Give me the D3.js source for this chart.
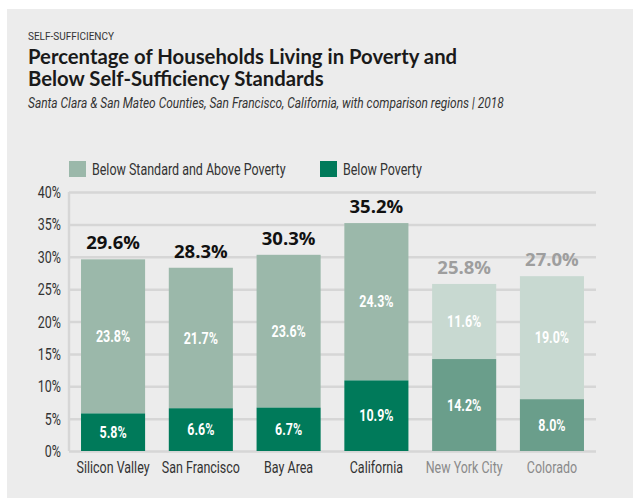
<!DOCTYPE html>
<html>
<head>
<meta charset="utf-8">
<script src="https://cdn.jsdelivr.net/npm/d3@7"></script>
<style>
  html, body { margin: 0; padding: 0; background: #fff; }
  svg { display: block; }
  .cond { font-family: Roboto, "Liberation Sans", sans-serif; }
</style>
</head>
<body>
<div id="chart"></div>
<script>
// Chart data
const categories = ["Silicon Valley", "San Francisco", "Bay Area", "California", "New York City", "Colorado"];
const belowPoverty = [5.8, 6.6, 6.7, 10.9, 14.2, 8.0];
const belowStandard = [23.8, 21.7, 23.6, 24.3, 11.6, 19.0];
const totals = [29.6, 28.3, 30.3, 35.2, 25.8, 27.0];
// comparison regions are drawn in faded colours
const comparison = [false, false, false, false, true, true];
const yTicks = [0, 5, 10, 15, 20, 25, 30, 35, 40];
const legendLabels = ["Below Standard and Above Poverty", "Below Poverty"];

const width = 633, height = 498;
// no condensed face is installed, so squeeze Roboto horizontally
const squeeze = 0.78;

const colors = {
  top: "#9bb8aa", bottom: "#007a5a",
  topFaded: "#c8d9d1", bottomFaded: "#6a9e8b",
  grid: "#d6d6d6", panel: "#ececec"
};

const svg = d3.select("#chart").append("svg")
  .attr("width", width)
  .attr("height", height);

/*
 * Place a text at (x, y) with a horizontal squeeze.
 */
function placeCond(sel, fx, fy, sx) {
  sel.attr("class", "cond")
    .attr("transform", (d, i) => "translate(" + fx(d, i) + "," + fy(d, i) + ") scale(" + (sx || squeeze) + ",1)");
}

// grey panel behind everything
svg.append("rect")
  .attr("x", 7).attr("y", 9)
  .attr("width", width - 7).attr("height", height - 9)
  .attr("fill", colors.panel);

// ---- Titles ----
svg.append("text")
  .call(placeCond, () => 28, () => 40, 0.87)
  .attr("font-size", 11.5)
  .attr("fill", "#333")
  .text("SELF-SUFFICIENCY");

const titleLines = ["Percentage of Households Living in Poverty and", "Below Self-Sufficiency Standards"];
svg.append("g").selectAll("text")
  .data(titleLines)
  .join("text")
  .attr("x", 28)
  .attr("y", (d, i) => 64 + i * 22)
  .attr("font-family", "Lato, sans-serif")
  .attr("font-weight", 700)
  .attr("font-size", 20.3)
  .attr("fill", "#1a1a1a")
  .text(d => d);

svg.append("text")
  .call(placeCond, () => 28, () => 108)
  .attr("font-style", "italic")
  .attr("font-size", 15.3)
  .attr("fill", "#333")
  .text("Santa Clara & San Mateo Counties, San Francisco, California, with comparison regions  |  2018");

// ---- Scales ----
const x = d3.scaleBand()
  .domain(categories)
  .range([69, 596])
  .paddingInner(0.27)
  .paddingOuter(0.137);

const y = d3.scaleLinear()
  .domain([0, 40])
  .range([451, 192]);

// ---- Grid and axis ----
const yAxis = d3.axisLeft(y)
  .tickValues(yTicks)
  .tickSize(-(596 - 69))
  .tickFormat(d => d + "%");

const axisG = svg.append("g")
  .attr("transform", "translate(69,0)")
  .call(yAxis);

axisG.select(".domain").remove();
axisG.selectAll(".tick line")
  .attr("stroke", colors.grid)
  .attr("stroke-width", 2.5);
axisG.selectAll(".tick text")
  .attr("x", null)
  .attr("dy", "0.35em")
  .call(placeCond, () => -8, () => 0)
  .attr("font-size", 16)
  .attr("fill", "#333");

// vertical axis line
svg.append("line")
  .attr("x1", 69).attr("x2", 69)
  .attr("y1", y(40)).attr("y2", y(0))
  .attr("stroke", colors.grid)
  .attr("stroke-width", 2.5);

// ---- Bars ----
const bars = svg.append("g").selectAll("g")
  .data(categories)
  .join("g");

bars.append("rect")
  .attr("x", d => x(d))
  .attr("width", x.bandwidth())
  .attr("y", (d, i) => y(totals[i]))
  .attr("height", (d, i) => y(belowPoverty[i]) - y(totals[i]))
  .attr("fill", (d, i) => comparison[i] ? colors.topFaded : colors.top);

bars.append("rect")
  .attr("x", d => x(d))
  .attr("width", x.bandwidth())
  .attr("y", (d, i) => y(belowPoverty[i]))
  .attr("height", (d, i) => y(0) - y(belowPoverty[i]))
  .attr("fill", (d, i) => comparison[i] ? colors.bottomFaded : colors.bottom);

const mid = d => x(d) + x.bandwidth() / 2;

// segment labels
bars.append("text")
  .call(placeCond, mid, (d, i) => (y(belowPoverty[i]) + y(totals[i])) / 2)
  .attr("dy", "0.35em")
  .attr("text-anchor", "middle")
  .attr("font-size", 16)
  .attr("font-weight", 700)
  .attr("fill", "#fff")
  .text((d, i) => belowStandard[i].toFixed(1) + "%");

bars.append("text")
  .call(placeCond, mid, (d, i) => (y(0) + y(belowPoverty[i])) / 2)
  .attr("dy", "0.35em")
  .attr("text-anchor", "middle")
  .attr("font-size", 16)
  .attr("font-weight", 700)
  .attr("fill", "#fff")
  .text((d, i) => belowPoverty[i].toFixed(1) + "%");

// totals above the bars
bars.append("text")
  .attr("x", mid)
  .attr("y", (d, i) => y(totals[i]) - 10)
  .attr("text-anchor", "middle")
  .attr("font-family", "'Open Sans', sans-serif")
  .attr("font-size", 18.5)
  .attr("font-weight", 700)
  .attr("fill", (d, i) => comparison[i] ? "#9e9e9e" : "#111")
  .text((d, i) => totals[i].toFixed(1) + "%");

// category labels
bars.append("text")
  .call(placeCond, mid, () => 473)
  .attr("text-anchor", "middle")
  .attr("font-size", 16)
  .attr("fill", (d, i) => comparison[i] ? "#8a8a8a" : "#333")
  .text(d => d);

// ---- Legend ----
const legendX = [69, 320];
const legendColors = [colors.top, colors.bottom];
const legend = svg.append("g").selectAll("g")
  .data(legendLabels)
  .join("g")
  .attr("transform", (d, i) => "translate(" + legendX[i] + ",161)");

legend.append("rect")
  .attr("width", 17).attr("height", 16)
  .attr("fill", (d, i) => legendColors[i]);

legend.append("text")
  .call(placeCond, () => 23, () => 8)
  .attr("dy", "0.35em")
  .attr("font-size", 16)
  .attr("fill", "#333")
  .text(d => d);
</script>
</body>
</html>
